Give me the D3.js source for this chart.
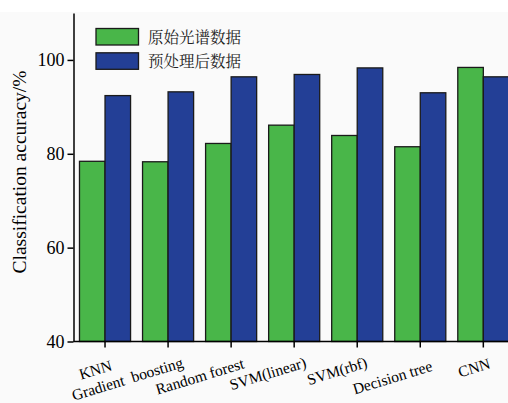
<!DOCTYPE html>
<html>
<head>
<meta charset="utf-8">
<script src="https://cdn.jsdelivr.net/npm/d3@7"></script>
<style>
  html, body { margin: 0; padding: 0; background: #ffffff; }
  svg { display: block; }
</style>
</head>
<body>
<svg id="chart" width="508" height="403"></svg>
<script>
// Classification accuracy of each model on raw vs. preprocessed spectra
const categories = ["KNN", "Gradient  boosting", "Random forest", "SVM(linear)", "SVM(rbf)", "Decision tree", "CNN"];
const seriesNames = ["原始光谱数据", "预处理后数据"];
const rawValues = [78.4, 78.3, 82.2, 86.1, 83.9, 81.5, 98.4];
const processedValues = [92.4, 93.2, 96.4, 96.9, 98.3, 93.0, 96.4];
const yTicks = [40, 60, 80, 100];

const colors = ["#49b649", "#233f96"];
const serif = "'Liberation Serif', 'Times New Roman', serif";

const svg = d3.select("#chart");
const W = 508, H = 403;
const margin = { left: 73.5, top: 13, bottom: 341.5 };

// soft grey page area
svg.append("rect").attr("x", 0).attr("y", 12).attr("width", W).attr("height", H - 12).attr("fill", "#fafafa");

const x0 = d3.scaleBand()
  .domain(categories)
  .range([margin.left, margin.left + 7 * 63.05])
  .paddingInner(0.19)
  .paddingOuter(0.095);

const x1 = d3.scaleBand()
  .domain(seriesNames)
  .range([0, x0.bandwidth()]);

const y = d3.scaleLinear().domain([40, 110]).range([margin.bottom, margin.top]);

const rows = categories.map((c, i) => ({ cat: c, vals: [rawValues[i], processedValues[i]] }));

const groups = svg.append("g").selectAll("g").data(rows).join("g")
  .attr("transform", d => `translate(${x0(d.cat)},0)`);

groups.selectAll("rect").data(d => d.vals.map((v, j) => ({ v, s: seriesNames[j], j })))
  .join("rect")
  .attr("x", d => x1(d.s))
  .attr("y", d => y(d.v))
  .attr("width", x1.bandwidth())
  .attr("height", d => y(40) - y(d.v))
  .attr("fill", d => colors[d.j])
  .attr("stroke", "#1a1a1a")
  .attr("stroke-width", 1.3);

// y axis
const yAxis = svg.append("g")
  .attr("transform", `translate(${margin.left},0)`)
  .call(d3.axisLeft(y).tickValues(yTicks).tickSize(6).tickPadding(3).tickSizeOuter(0));
yAxis.select(".domain").attr("stroke", "#000").attr("stroke-width", 1.5);
yAxis.selectAll(".tick line").attr("stroke", "#000").attr("stroke-width", 1.5);
yAxis.selectAll(".tick text").attr("font-family", serif).attr("font-size", 18).attr("fill", "#000");

// x axis; slanted labels end a little right of their tick
const labelShift = [8, 16, 14, 13, 11, 13, 8];
const labelDrop = [28.5, 25.5, 26.5, 25.5, 25.5, 29, 26.5];
const xAxis = svg.append("g")
  .attr("transform", `translate(0,${margin.bottom})`)
  .call(d3.axisBottom(x0).tickSize(6).tickSizeOuter(0));
xAxis.select(".domain").attr("stroke", "#000").attr("stroke-width", 1.5)
  .attr("d", `M${margin.left},0H${W}`);
xAxis.selectAll(".tick line").attr("stroke", "#000").attr("stroke-width", 1.5);
xAxis.selectAll(".tick text")
  .attr("font-family", serif).attr("font-size", 15.5).attr("fill", "#000")
  .attr("text-anchor", "end")
  .attr("y", 0).attr("dy", 0)
  .attr("transform", (d, i) => `translate(${labelShift[i]},${labelDrop[i]}) rotate(-17)`)
  .style("white-space", "pre")
  .attr("xml:space", "preserve");

// y axis title
svg.append("text")
  .attr("transform", "translate(25.5,172) rotate(-90)")
  .attr("text-anchor", "middle")
  .attr("font-family", serif)
  .attr("font-size", 19.5)
  .attr("fill", "#000")
  .text("Classification accuracy/%");

// legend
const legend = svg.append("g").attr("transform", "translate(96,28.5)");
seriesNames.forEach((name, i) => {
  const g = legend.append("g").attr("transform", `translate(0,${i * 24.3})`);
  g.append("rect").attr("width", 42.5).attr("height", 16.5)
    .attr("fill", colors[i]).attr("stroke", "#1a1a1a").attr("stroke-width", 1.3);
  g.append("text").attr("x", 52).attr("y", 8.5).attr("dy", "0.36em")
    .attr("font-family", "'Noto Serif CJK SC', 'Noto Sans CJK SC', sans-serif")
    .attr("font-size", 15.5).attr("fill", "#222")
    .text(name);
});
</script>
</body>
</html>
